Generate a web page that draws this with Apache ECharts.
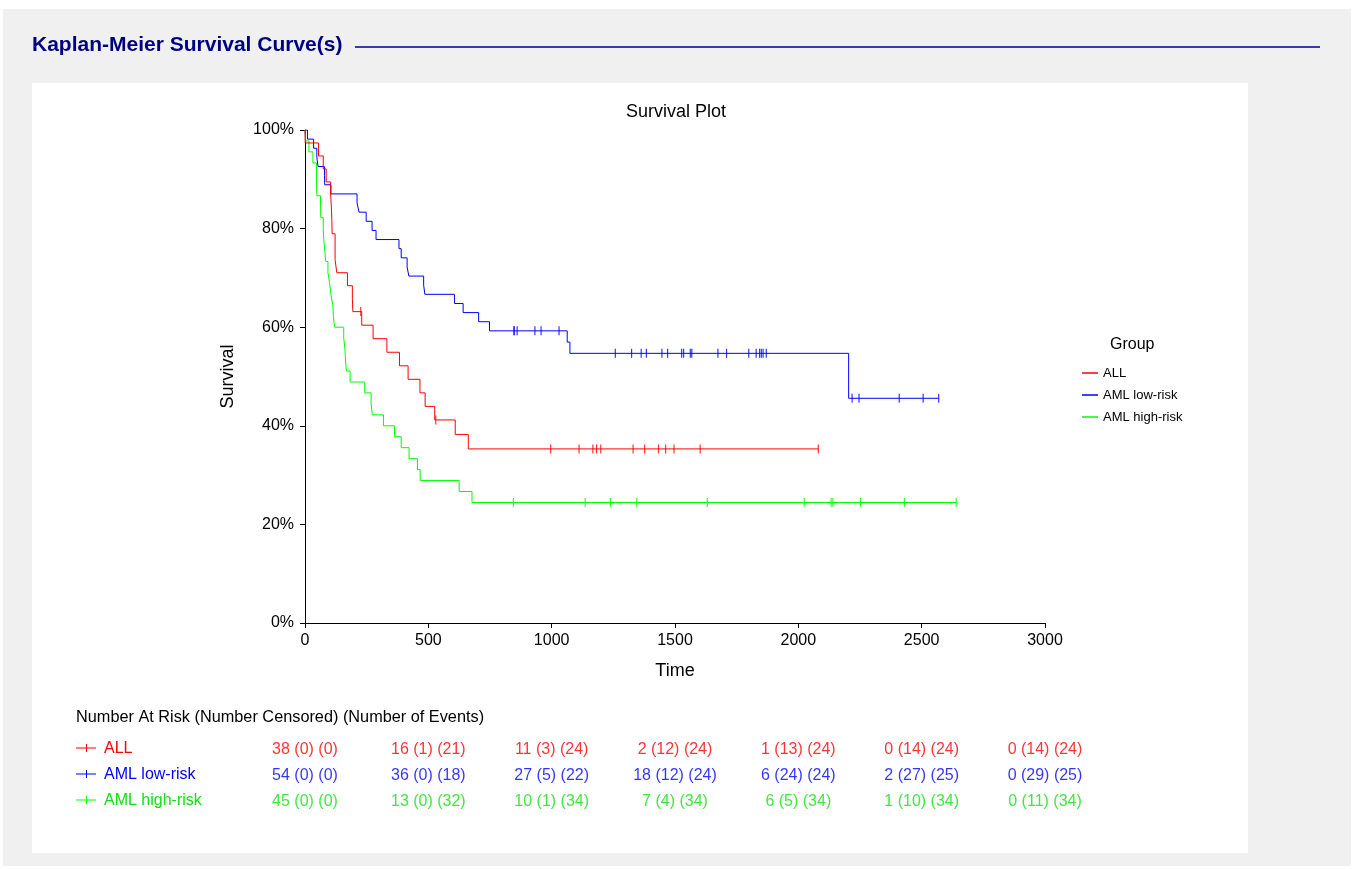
<!DOCTYPE html>
<html><head><meta charset="utf-8">
<script src="https://cdn.jsdelivr.net/npm/echarts@6/dist/echarts.min.js"></script>
<style>
html,body{margin:0;padding:0;background:#fff}
#gray{position:absolute;left:3px;top:9px;width:1348px;height:857px;background:#f0f0f0}
#white{position:absolute;left:32px;top:83px;width:1216px;height:770px;background:#fff}
#c{position:absolute;left:0;top:0;width:1354px;height:869px}
</style>
</head><body>
<div id="gray"></div><div id="white"></div>
<div id="c"></div>
<script>
// ---------- data ----------
const groups = ['ALL', 'AML low-risk', 'AML high-risk'];
const colors = ['#ff0000', '#0000ff', '#00ff00'];
const textColors = ['#ff0000', '#0000ff', '#12e012'];

// step points (time, survival %)
const allTimes = [0,1,55,74,86,104,107,109,110,122,129,172,192,194,230,276,332,383,418,466,487,526,609,662,2081];
const allSurv  = [100,97.37,94.74,92.11,89.47,86.84,84.21,81.58,78.95,73.68,71.05,68.42,65.79,63.16,60.41,57.67,54.92,52.17,49.43,46.68,43.94,41.19,38.25,35.31,35.31];
const allCensor = [226,530,996,1111,1167,1182,1199,1330,1377,1433,1462,1496,1602,2081];

const lowTimes = [0,10,35,48,53,79,80,105,211,219,248,272,288,381,390,414,421,481,486,606,641,704,748,1063,1074,2204,2569];
const lowSurv  = [100,98.15,96.30,94.44,92.59,90.74,88.89,87.04,85.19,83.33,81.48,79.63,77.78,75.93,74.07,72.22,70.37,68.52,66.67,64.81,62.96,61.11,59.26,56.98,54.70,45.58,45.58];
const lowCensor = [847,848,860,932,957,1030,1258,1324,1363,1384,1447,1470,1527,1535,1562,1568,1674,1709,1799,1829,1843,1850,1857,1870,2218,2246,2409,2506,2569];

const highTimes = [0,2,16,32,47,48,63,64,74,76,80,84,93,100,105,113,115,120,157,162,164,168,183,242,268,273,318,363,390,422,456,467,625,677,2640];
const highSurv  = [100,97.78,95.56,93.33,88.89,86.67,84.44,82.22,80,77.78,75.56,73.33,71.11,68.89,66.67,64.44,62.22,60,57.78,55.56,53.33,51.11,48.89,46.67,44.44,42.22,40,37.78,35.56,33.33,31.11,28.89,26.67,24.44,24.44];
const highCensor = [845,1136,1238,1345,1631,2024,2133,2140,2252,2430,2640];

// number at risk table
const riskTimes = [0,500,1000,1500,2000,2500,3000];
const allAtRisk = [38,16,11,2,1,0,0];
const allCens   = [0,1,3,12,13,14,14];
const allEvents = [0,21,24,24,24,24,24];
const lowAtRisk = [54,36,27,18,6,2,0];
const lowCens   = [0,0,5,12,24,27,29];
const lowEvents = [0,18,22,24,24,25,25];
const highAtRisk = [45,13,10,7,6,1,0];
const highCens   = [0,0,1,4,5,10,11];
const highEvents = [0,32,34,34,34,34,34];

const xTicksMin = 0, xTicksMax = 3000, xTickStep = 500;
const yTicksMin = 0, yTicksMax = 100, yTickStep = 20;

// ---------- build ----------
const FONT = 'Arial, "Liberation Sans", sans-serif';
const stepData = [[allTimes, allSurv], [lowTimes, lowSurv], [highTimes, highSurv]];
const censorData = [allCensor, lowCensor, highCensor];
const tableData = [[allAtRisk, allCens, allEvents], [lowAtRisk, lowCens, lowEvents], [highAtRisk, highCens, highEvents]];

function survAt(times, surv, t) {
  let v = surv[0];
  for (let i = 0; i < times.length; i++) { if (times[i] <= t) v = surv[i]; }
  return v;
}

const series = [];
groups.forEach((g, gi) => {
  const [ts, ss] = stepData[gi];
  series.push({
    name: g, type: 'line', step: 'end', xAxisIndex: 0, yAxisIndex: 0,
    data: ts.map((t, i) => [t, ss[i]]), symbol: 'none',
    lineStyle: { color: colors[gi], width: 1 }, itemStyle: { color: colors[gi] },
    animation: false, z: 3 + (2 - gi)
  });
  series.push({
    name: g, type: 'scatter', xAxisIndex: 0, yAxisIndex: 0,
    data: censorData[gi].map(t => [t, survAt(ts, ss, t)]),
    symbol: 'rect', symbolSize: [1.2, 9],
    itemStyle: { color: colors[gi] }, animation: false, z: 6
  });
  const [ar, ce, ev] = tableData[gi];
  series.push({
    name: 'risk-' + g, type: 'scatter', xAxisIndex: 1, yAxisIndex: 1,
    data: riskTimes.map((t, i) => ({ value: [t, g], label: { formatter: ar[i] + ' (' + ce[i] + ') (' + ev[i] + ')' } })),
    symbolSize: 0, silent: true, animation: false,
    label: { show: true, position: 'inside', color: textColors[gi], fontSize: 16, fontFamily: FONT }
  });
});

const graphic = [
  { type: 'text', left: 32, top: 35, style: { text: 'Kaplan-Meier Survival Curve(s)', fill: '#000080', font: 'bold 21px ' + FONT } },
  { type: 'line', shape: { x1: 355, y1: 47, x2: 1320, y2: 47 }, style: { stroke: '#000080', lineWidth: 1.5 } },
  { type: 'text', left: 1110, top: 337, style: { text: 'Group', fill: '#000', font: '16px ' + FONT } },
  { type: 'text', left: 76, top: 710, style: { text: 'Number At Risk (Number Censored) (Number of Events)', fill: '#000', font: '16.3px ' + FONT } }
];
const rowY = [748, 774, 800];
groups.forEach((g, gi) => {
  graphic.push({ type: 'line', shape: { x1: 76, y1: rowY[gi], x2: 96, y2: rowY[gi] }, style: { stroke: colors[gi], lineWidth: 1 } });
  graphic.push({ type: 'line', shape: { x1: 86.5, y1: rowY[gi] - 4, x2: 86.5, y2: rowY[gi] + 4 }, style: { stroke: colors[gi], lineWidth: 1 } });
  graphic.push({ type: 'text', left: 104, top: rowY[gi] - 7, style: { text: g, fill: textColors[gi], font: '16px ' + FONT } });
});

const chart = echarts.init(document.getElementById('c'), null, { renderer: 'canvas' });
chart.setOption({
  backgroundColor: 'transparent',
  animation: false,
  title: { text: 'Survival Plot', left: 671, top: 98, textAlign: 'center',
    textStyle: { fontSize: 18, fontWeight: 'normal', color: '#000', fontFamily: FONT } },
  legend: {
    orient: 'vertical', left: 1077, top: 361,
    data: groups.map(g => ({ name: g, icon: 'rect' })),
    itemWidth: 16, itemHeight: 1.5, itemGap: 8,
    textStyle: { fontSize: 13, color: '#000', fontFamily: FONT, lineHeight: 14 }
  },
  grid: [
    { left: 305, top: 130, width: 740, height: 493 },
    { left: 305, top: 737, width: 740, height: 78 }
  ],
  xAxis: [
    { type: 'value', gridIndex: 0, min: xTicksMin, max: xTicksMax, interval: xTickStep,
      name: 'Time', nameLocation: 'middle', nameGap: 39,
      nameTextStyle: { fontSize: 18, color: '#000', fontFamily: FONT },
      axisLine: { lineStyle: { color: '#000', width: 1 } },
      axisTick: { show: true, length: 5, lineStyle: { color: '#000' } },
      axisLabel: { fontSize: 16, color: '#000', fontFamily: FONT, margin: 10, formatter: v => String(v) },
      splitLine: { show: false } },
    { type: 'value', gridIndex: 1, min: xTicksMin, max: xTicksMax, interval: xTickStep, show: false }
  ],
  yAxis: [
    { type: 'value', gridIndex: 0, min: yTicksMin, max: yTicksMax, interval: yTickStep,
      name: 'Survival', nameLocation: 'middle', nameGap: 68, nameRotate: 90,
      nameTextStyle: { fontSize: 18, color: '#000', fontFamily: FONT },
      axisLine: { show: true, lineStyle: { color: '#000', width: 1 } },
      axisTick: { show: true, length: 5, lineStyle: { color: '#000' } },
      axisLabel: { fontSize: 16, color: '#000', fontFamily: FONT, margin: 11, formatter: '{value}%' },
      splitLine: { show: false } },
    { type: 'category', gridIndex: 1, data: groups, inverse: true, show: false }
  ],
  graphic: graphic,
  series: series
});
</script>
</body></html>
